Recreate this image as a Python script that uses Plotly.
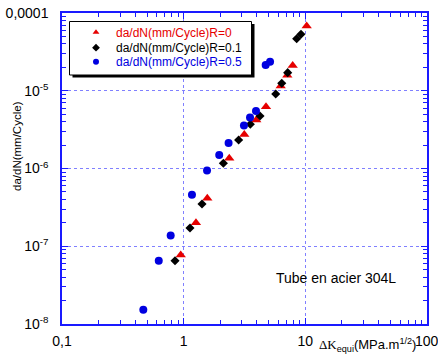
import plotly.graph_objects as go

# ---- data ----
dk_r0 = [0.946, 1.262, 1.564, 2.37, 3.15, 3.95, 4.75, 6.27, 7.11, 7.87, 10.26]
da_r0 = [7.7e-8, 2.01e-7, 4.14e-7, 1.35e-6, 2.74e-6, 4.21e-6, 6.24e-6, 1.15e-5, 1.58e-5, 2.12e-5, 6.8e-5]

dk_r01 = [0.849, 1.127, 1.415, 2.12, 2.83, 3.53, 4.24, 5.71, 6.40, 7.16, 8.49, 9.21]
da_r01 = [6.52e-8, 1.72e-7, 3.49e-7, 1.17e-6, 2.33e-6, 3.70e-6, 4.73e-6, 9.08e-6, 1.25e-5, 1.71e-5, 4.67e-5, 5.32e-5]

dk_r05 = [0.466, 0.624, 0.782, 1.17, 1.556, 1.96, 2.34, 3.13, 3.51, 3.93, 4.72, 5.13]
da_r05 = [1.53e-8, 6.52e-8, 1.37e-7, 4.6e-7, 9.4e-7, 1.49e-6, 2.13e-6, 3.57e-6, 4.53e-6, 5.49e-6, 2.14e-5, 2.36e-5]

names = ["da/dN(mm/Cycle)R=0", "da/dN(mm/Cycle)R=0.1", "da/dN(mm/Cycle)R=0.5"]

x_tickvals = [0.1, 1, 10, 100]
x_ticktext = ["0,1", "1", "10", ""]
y_tickvals = [1e-8, 1e-7, 1e-6, 1e-5, 1e-4]
y_ticktext = ["10<sup>-8</sup>", "10<sup>-7</sup>", "10<sup>-6</sup>", "10<sup>-5</sup>", "0,0001"]

# ---- style ----
W, H = 438, 361
L, R, T, B = 62, 427, 13, 324
RED, BLK, BLU = "#e60000", "#000000", "#0000e0"
AXC = "#1a1aff"
GRIDC = "#8080ff"
FONT = "Liberation Sans, Arial, sans-serif"


def px_x(p):
    return (p - L) / (R - L)


def px_y(p):
    return (B - p) / (B - T)


series = [
    (dk_r0, da_r0, names[0], RED, "triangle-up", 9, "legend"),
    (dk_r01, da_r01, names[1], BLK, "diamond", 7, "legend2"),
    (dk_r05, da_r05, names[2], BLU, "circle", 8, "legend3"),
]

fig = go.Figure()
for xs, ys, nm, col, sym, sz, lg in series:
    fig.add_trace(go.Scatter(x=xs, y=ys, mode="markers", name=nm, showlegend=False,
                             marker=dict(symbol=sym, size=sz, color=col, line=dict(width=0))))
    # legend-only entry with smaller symbol
    fig.add_trace(go.Scatter(x=[None], y=[None], mode="markers", name=nm, legend=lg,
                             marker=dict(symbol=sym, size=6, color=col, line=dict(width=0))))

minor_x = [m * 10 ** e for e in range(-1, 2) for m in range(2, 10)]
minor_y = [m * 10 ** e for e in range(-8, -4) for m in range(2, 10)]

axis_common = dict(
    type="log", showline=True, linecolor=AXC, linewidth=1.5, mirror="allticks",
    ticks="inside", ticklen=6, tickwidth=1, tickcolor=AXC,
    showgrid=True, gridcolor=GRIDC, griddash="dot", gridwidth=1.2,
    zeroline=False, tickfont=dict(family=FONT, size=14, color="black"),
)

fig.update_xaxes(**axis_common, range=[-1, 2], tickmode="array", tickvals=x_tickvals,
                 ticktext=x_ticktext, ticklabelstandoff=3,
                 minor=dict(tickmode="array", tickvals=minor_x, ticks="inside", ticklen=4,
                            tickcolor=AXC, showgrid=False))
fig.update_yaxes(**axis_common, range=[-8, -4], tickmode="array", tickvals=y_tickvals,
                 ticktext=y_ticktext, ticklabelstandoff=9,
                 minor=dict(tickmode="array", tickvals=minor_y, ticks="inside", ticklen=4,
                            tickcolor=AXC, showgrid=False))

# legend box with shadow
fig.add_shape(type="rect", xref="paper", yref="paper", layer="above",
              x0=px_x(72.5), x1=px_x(254.5), y0=px_y(77.5), y1=px_y(24),
              fillcolor="black", line=dict(width=0))
fig.add_shape(type="rect", xref="paper", yref="paper", layer="above",
              x0=px_x(69.5), x1=px_x(251.5), y0=px_y(75), y1=px_y(21.5),
              fillcolor="white", line=dict(color="black", width=1))

leg_rows = [32.3, 47.7, 61.7]
leg_cols = [RED, BLK, BLU]
legends = {}
for i, key in enumerate(["legend", "legend2", "legend3"]):
    legends[key] = dict(x=px_x(76), y=px_y(leg_rows[i]), xanchor="left", yanchor="middle",
                        bgcolor="rgba(0,0,0,0)", borderwidth=0,
                        font=dict(family=FONT, size=12, color=leg_cols[i]))

annotations = [
    dict(text="Tube en acier 304L", x=px_x(336), y=px_y(278), xref="paper", yref="paper",
         xanchor="center", yanchor="middle",
         showarrow=False, font=dict(family=FONT, size=14, color="black")),
    dict(text="da/dN(mm/Cycle)", x=px_x(17), y=px_y(146), xref="paper", yref="paper",
         xanchor="center", yanchor="middle",
         textangle=-90, showarrow=False, font=dict(family=FONT, size=11.5, color="black")),
    dict(text="<span style='font-family:Liberation Serif, Times New Roman, serif'>ΔK</span>"
              "<sub>equi</sub>(MPa.m<sup>1/2</sup>)",
         x=px_x(317), y=px_y(345), xref="paper", yref="paper", xanchor="left", yanchor="middle",
         showarrow=False, font=dict(family=FONT, size=13, color="black")),
    dict(text="100", x=px_x(427), y=px_y(341), xref="paper", yref="paper",
         xanchor="center", yanchor="middle",
         showarrow=False, font=dict(family=FONT, size=14, color="black")),
]

fig.update_layout(
    width=W, height=H, margin=dict(l=L, r=W - R, t=T, b=H - B, autoexpand=False),
    paper_bgcolor="white", plot_bgcolor="white",
    annotations=annotations, **legends,
)

fig.write_html("out.html", config={"displayModeBar": False},
               post_script="document.body.style.margin='0px';document.body.style.overflow='hidden';")
